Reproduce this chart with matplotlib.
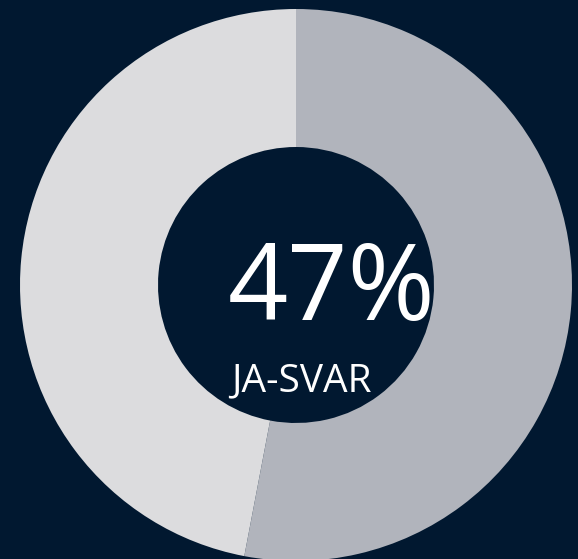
import matplotlib.pyplot as plt

answers = ['Nei/annet', 'Ja']
shares = [53, 47]
colors = ['#b1b4bc', '#dcdcde']
caption = 'JA-SVAR'

W, H = 578, 559
bg = '#011830'

fig = plt.figure(figsize=(W / 100, H / 100), dpi=100, facecolor=bg)
ax = fig.add_axes([0, 0, 1, 1])
ax.set_facecolor(bg)

cx, cy = 296, H - 285
r_out = 276
ax.pie(shares, colors=colors, startangle=90, counterclock=False,
       center=(cx, cy), radius=r_out, frame=True,
       wedgeprops=dict(width=138, edgecolor='none'))
ax.set_xlim(0, W)
ax.set_ylim(0, H)
ax.set_aspect('equal')
ax.axis('off')

ax.text(332, H - 292, f'{shares[1]}%', color='white', fontsize=76,
        family='Open Sans', ha='center', va='center')
ax.text(301, H - 381, caption, color='white', fontsize=28,
        family='Open Sans', ha='center', va='center')

fig.savefig('out.png', dpi=100, facecolor=bg)
